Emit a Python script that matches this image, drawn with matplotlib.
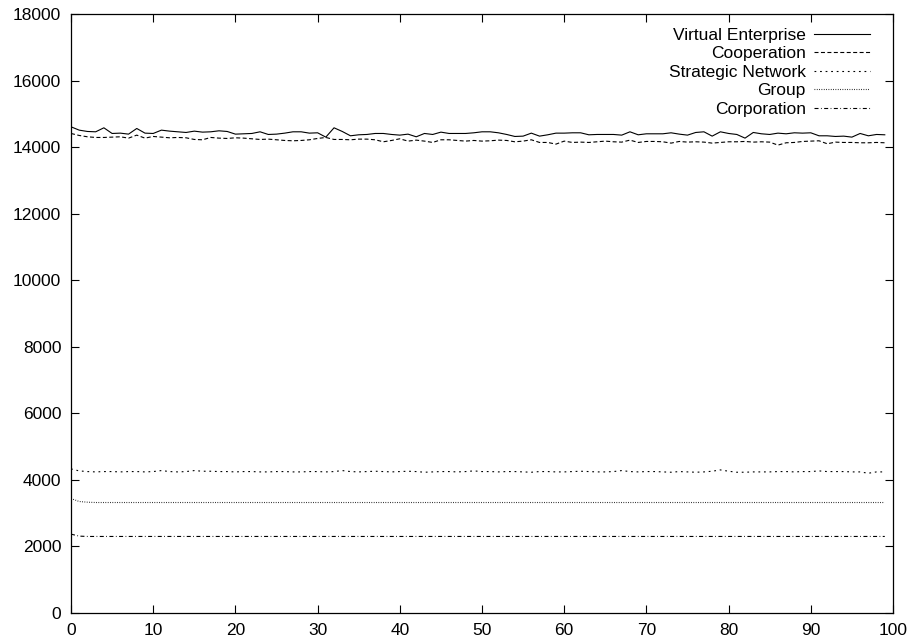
import matplotlib
matplotlib.use("Agg")
import matplotlib.pyplot as plt
import numpy as np

plt.rcParams["font.family"] = ["Liberation Sans", "DejaVu Sans"]

# generations 0..99
steps = np.arange(100)

virtual_enterprise = [
    14610, 14510, 14470, 14460, 14580, 14410, 14420, 14390, 14560, 14420,
    14410, 14510, 14480, 14460, 14440, 14480, 14450, 14460, 14490, 14470,
    14390, 14400, 14410, 14460, 14380, 14390, 14420, 14460, 14460, 14420,
    14430, 14300, 14580, 14470, 14340, 14370, 14380, 14410, 14410, 14380,
    14360, 14390, 14310, 14410, 14380, 14450, 14410, 14410, 14410, 14430,
    14460, 14460, 14430, 14380, 14320, 14330, 14420, 14330, 14370, 14420,
    14420, 14430, 14430, 14370, 14380, 14380, 14380, 14360, 14460, 14370,
    14400, 14400, 14400, 14430, 14390, 14360, 14440, 14460, 14330, 14460,
    14410, 14380, 14270, 14440, 14400, 14380, 14420, 14400, 14430, 14420,
    14430, 14340, 14340, 14320, 14330, 14300, 14410, 14340, 14380, 14370,
]

cooperation = [
    14410, 14350, 14310, 14290, 14290, 14300, 14310, 14270, 14360, 14270,
    14320, 14300, 14280, 14290, 14280, 14230, 14220, 14290, 14270, 14260,
    14280, 14270, 14250, 14230, 14240, 14220, 14200, 14190, 14200, 14220,
    14260, 14290, 14230, 14230, 14220, 14240, 14240, 14220, 14160, 14200,
    14250, 14180, 14210, 14180, 14140, 14220, 14220, 14200, 14180, 14200,
    14180, 14190, 14210, 14200, 14160, 14180, 14220, 14140, 14140, 14090,
    14180, 14140, 14150, 14140, 14160, 14180, 14160, 14150, 14210, 14140,
    14170, 14170, 14160, 14120, 14170, 14150, 14160, 14150, 14120, 14140,
    14160, 14160, 14170, 14150, 14160, 14150, 14060, 14130, 14140, 14170,
    14180, 14190, 14100, 14150, 14140, 14140, 14130, 14130, 14140, 14130,
]

strategic_network = [
    4330, 4270, 4250, 4240, 4250, 4250, 4240, 4250, 4250, 4240,
    4250, 4280, 4250, 4240, 4250, 4280, 4260, 4260, 4250, 4250,
    4240, 4250, 4250, 4240, 4240, 4250, 4250, 4240, 4240, 4250,
    4250, 4240, 4250, 4280, 4250, 4240, 4250, 4260, 4250, 4240,
    4250, 4260, 4250, 4230, 4240, 4250, 4250, 4240, 4250, 4270,
    4250, 4250, 4240, 4250, 4250, 4240, 4230, 4250, 4250, 4240,
    4240, 4250, 4260, 4250, 4240, 4240, 4250, 4280, 4250, 4240,
    4250, 4250, 4240, 4230, 4250, 4240, 4230, 4240, 4260, 4300,
    4260, 4230, 4230, 4240, 4240, 4240, 4250, 4250, 4240, 4250,
    4250, 4270, 4250, 4250, 4250, 4240, 4240, 4200, 4240, 4240,
]

group = [3440, 3350, 3330] + [3320] * 97

corporation = [2370, 2310, 2300] + [2300] * 97

series = [
    ("Virtual Enterprise", virtual_enterprise, "-"),
    ("Cooperation", cooperation, (0, (3.6, 2.2))),
    ("Strategic Network", strategic_network, (0, (1.6, 3.4))),
    ("Group", group, (0, (0.7, 1.4))),
    ("Corporation", corporation, (0, (3.6, 2.2, 0.7, 2.2))),
]

fig = plt.figure(figsize=(9.09, 6.42), dpi=100)
ax = fig.add_axes([71 / 909, 1 - 613 / 642, (893 - 71) / 909, (613 - 14) / 642])

for name, values, style in series:
    ax.plot(steps, values, color="black", linestyle=style, linewidth=0.8, label=name)

ax.set_xlim(0, 100)
ax.set_ylim(0, 18000)
ax.set_xticks(range(0, 101, 10))
ax.set_yticks(range(0, 18001, 2000))
ax.tick_params(direction="in", length=6, width=0.8, top=True, right=True,
               labelsize=12.5, pad=7, colors="black")
for sp in ax.spines.values():
    sp.set_linewidth(0.9)

leg = ax.legend(loc="upper right", bbox_to_anchor=(0.972, 0.977), frameon=False,
                markerfirst=False, handlelength=3.2, handletextpad=0.5,
                labelspacing=0.19, fontsize=12.5, borderaxespad=0, borderpad=0)
# gnuplot-style key: labels right aligned
for col in leg._legend_handle_box.get_children():
    col.align = "right"

fig.savefig("out.png", dpi=100)
